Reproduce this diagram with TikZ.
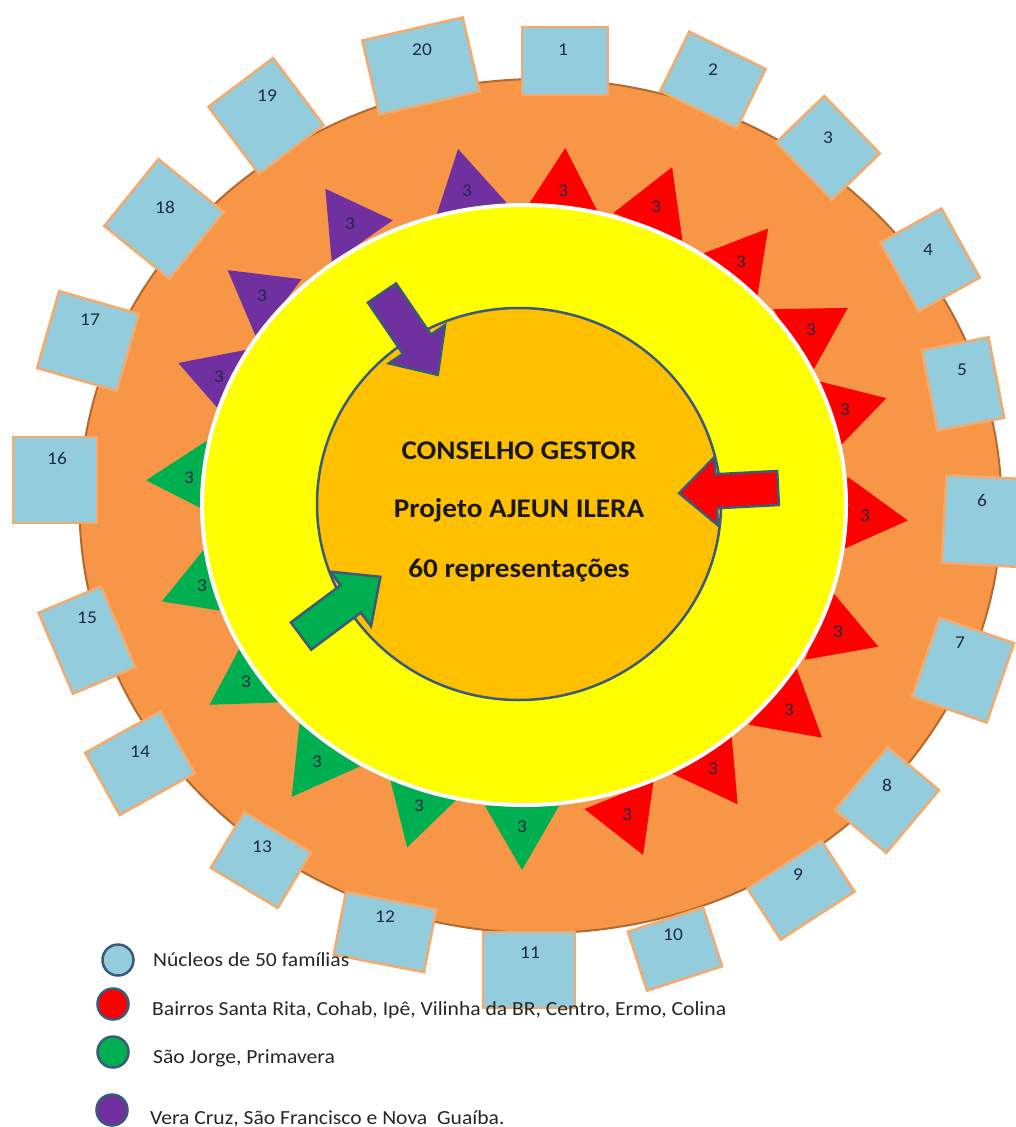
\documentclass[tikz,border=0pt]{standalone}
\usepackage{fontspec}
\setmainfont{Carlito}[FakeStretch=1.08]
\definecolor{laranja}{HTML}{F79646}
\definecolor{bordaanel}{HTML}{B4692D}
\definecolor{amarelo}{HTML}{FFFF00}
\definecolor{ouro}{HTML}{FFC000}
\definecolor{azulcaixa}{HTML}{93CDDD}
\definecolor{bordacaixa}{HTML}{F2AA6E}
\definecolor{vermelho}{HTML}{FF0000}
\definecolor{verde}{HTML}{00B050}
\definecolor{roxo}{HTML}{7030A0}
\definecolor{contorno}{HTML}{3A5A7C}
\definecolor{azultexto}{HTML}{1F2A44}
\begin{document}
\begin{tikzpicture}[x=1pt,y=-1pt,
      caixa/.style={draw=bordacaixa,fill=azulcaixa,line width=2.5pt,inner sep=0pt},
      numero/.style={font=\fontsize{18}{18}\selectfont,text=azultexto,inner sep=0pt},
      seta/.style={draw=contorno,line width=2.5pt},
      titulo/.style={anchor=base,font=\bfseries\fontsize{27}{27}\selectfont,text=black!90},
      legenda/.style={circle,draw=contorno,line width=2.5pt,minimum size=31pt,inner sep=0pt},
      textoleg/.style={anchor=base west,inner sep=0pt,font=\fontsize{20}{20}\selectfont,text=black!85}]
    \useasboundingbox (0,0) rectangle (1016,1127);
    % Anel laranja
    \filldraw[fill=laranja,draw=bordaanel,line width=2pt]
      (540.5,506) ellipse [x radius=461,y radius=427];
    % Nucleos de 50 familias
    \foreach \n/\x/\y/\w/\h/\r/\lx/\ly in {
        1/565/61/86/68/0/563/50, 2/713/80/85/66/-26/713/70,
        3/828/148/80/67/-46/828/138, 4/930/260/79/70/-61/928/250,
        5/963/384/68/82/11/962/370, 6/983/521/78/88/-3/982/500,
        7/963/670/79/84/-19/960/643, 8/887/800/67/82/-40/887/785,
        9/801/890/88/61/33/798/875, 10/675/949/79/62/18/673/935,
        11/529/970/92/76/0/530/953, 12/385/932/92/64/-11/385/917,
        13/261/860/78/65/-31/262/847, 14/140/763/86/71/29/140/752,
        15/87/640/68/88/23/87/618, 16/55/480/84/86/0/57/458,
        17/88/341/83/80/-16/90/320, 18/164/219/84/86/-39/165/207,
        19/266/116/81/84/37/267/96, 20/421/66/103/76/13/422/50} {
      \node[caixa,minimum width=\w pt,minimum height=\h pt,rotate=\r] (n\n) at (\x,\y) {};
      \node[numero] (ln\n) at (\lx,\ly) {\n};
    }
    % Triangulos com 3 representacoes
    \foreach \i/\x/\y/\t/\c in {
        1/563/191/-87/vermelho, 2/656/207/-68/vermelho, 3/741/262/-51/vermelho,
        4/811/330/-31/vermelho, 5/845/410/-16/vermelho, 6/865/516/6/vermelho,
        7/838/632/20/vermelho, 8/789/710/40/vermelho, 9/713/769/55/vermelho,
        10/627/815/68/vermelho, 11/522/827/90/verde, 12/419/806/106/verde,
        13/317/762/126/verde, 14/246/682/148/verde, 15/202/586/159/verde,
        16/189/478/177/verde, 17/219/377/199/roxo, 18/262/296/217/roxo,
        19/350/224/235/roxo, 20/467/191/258/roxo} {
      \fill[\c,shift={(\x,\y)}] (\t:43) -- (\t+120:43) -- (\t+240:43) -- cycle;
      \node[numero] (t\i) at (\x,\y) {3};
    }
    % Circulo amarelo e conselho
    \filldraw[fill=amarelo,draw=white,line width=4pt]
      (524,505) ellipse [x radius=322,y radius=300];
    \filldraw[fill=ouro,draw=contorno,line width=2.5pt]
      (519,504) ellipse [x radius=202,y radius=196];
    % Setas para o conselho
    \foreach \x/\y/\a/\c in {382/293/-55.7/roxo, 778/488/-177/vermelho, 301/636/36.7/verde}
      \filldraw[seta,fill=\c,shift={(\x,\y)},rotate=\a]
        (0,-17) -- (62,-17) -- (62,-34) -- (99,0) -- (62,34) -- (62,17) -- (0,17) -- cycle;
    \node[titulo] (conselho) at (519,459) {CONSELHO GESTOR};
    \node[titulo] (projeto) at (519,517) {Projeto AJEUN ILERA};
    \node[titulo] (repr) at (519,577) {60 representações};
    % Legenda
    \foreach \i/\x/\y/\c/\tx/\ty/\txt in {
        1/118/960/azulcaixa/153/966/{Núcleos de 50 famílias},
        2/113/1004/vermelho/152/1015/{Bairros Santa Rita, Cohab, Ipê, Vilinha da BR, Centro, Ermo, Colina},
        3/113/1052/verde/153/1063/{São Jorge, Primavera},
        4/112/1110/roxo/150/1124/{Vera Cruz, São Francisco e Nova\ \ Guaíba.}} {
      \node[legenda,fill=\c] (c\i) at (\x,\y) {};
      \node[textoleg] (leg\i) at (\tx,\ty) {\txt};
    }
  \end{tikzpicture}
\end{document}
